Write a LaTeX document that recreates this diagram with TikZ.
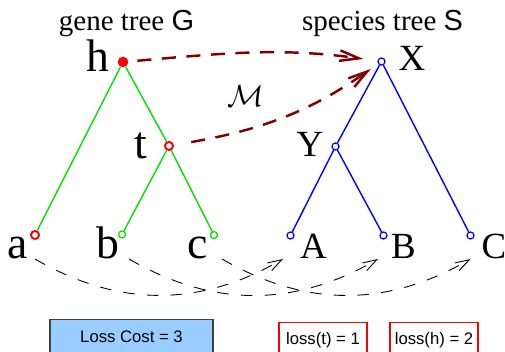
\documentclass[tikz,border=0pt]{standalone}
\usepackage{fontspec}
\setmainfont{Liberation Serif}
\setsansfont{Liberation Sans}
\usepackage{xcolor}
\usetikzlibrary{positioning, calc, arrows.meta}

\definecolor{genegreen}{RGB}{0,225,0}
\definecolor{mapred}{RGB}{128,0,0}
\definecolor{costblue}{RGB}{153,204,255}

\tikzset{
  gene/.style={draw=genegreen, line width=0.8pt},
  species/.style={draw=blue, line width=0.8pt},
  gleaf/.style={circle, draw=genegreen, fill=white, line width=0.7pt, inner sep=0pt, minimum size=4pt},
  sleaf/.style={circle, draw=blue, fill=white, line width=0.7pt, inner sep=0pt, minimum size=4pt},
  lossnode/.style={circle, draw=red, fill=white, line width=1.1pt, inner sep=0pt, minimum size=4.6pt},
  dupnode/.style={circle, fill=red, inner sep=0pt, minimum size=6pt},
  lowlbl/.style={anchor=base, font=\fontsize{26}{28}\selectfont},
  uplbl/.style={anchor=base, font=\fontsize{21}{24}\selectfont},
  treetitle/.style={anchor=base, font=\fontsize{16.5}{18}\selectfont},
  mapping/.style={draw=mapred, line width=1.4pt, dash pattern=on 8pt off 6pt,
    -{Straight Barb[length=11pt,width=6pt]}},
  leafmap/.style={draw=black, line width=0.5pt, dash pattern=on 6.5pt off 7pt,
    -{Straight Barb[length=8pt,width=5pt]}},
  costbox/.style={anchor=north, line width=0.6pt, inner xsep=0pt, inner ysep=5pt,
    text height=8pt, text depth=2.5pt, font=\sffamily\fontsize{9.5}{11}\selectfont},
  lossbox/.style={costbox, draw=red, minimum width=1.76cm}
}

\begin{document}
\begin{tikzpicture}[x=0.02cm, y=-0.02cm]
  \useasboundingbox (0,0) rectangle (505,352);
  \clip (0,0) rectangle (505,352);

  % Titles
  \node[treetitle] (gtitle) at (126.5,30) {gene tree {\sffamily G}};
  \node[treetitle] (stitle) at (382.5,30) {species tree {\sffamily S}};

  % Gene tree
  \node[dupnode] (h) at (123,62) {};
  \node[lossnode] (t) at (169,146) {};
  \node[lossnode] (a) at (35,235) {};
  \node[gleaf] (b) at (122,234.5) {};
  \node[gleaf] (c) at (214,235) {};
  \draw[gene] (h) -- (a);
  \draw[gene] (h) -- (t);
  \draw[gene] (t) -- (b);
  \draw[gene] (t) -- (c);

  % Species tree
  \node[sleaf] (X) at (381.5,61.5) {};
  \node[sleaf] (Y) at (335.5,146.5) {};
  \node[sleaf] (A) at (290.5,235.5) {};
  \node[sleaf] (B) at (383.5,235.5) {};
  \node[sleaf] (C) at (470.5,235.5) {};
  \draw[species] (X) -- (Y);
  \draw[species] (X) -- (C);
  \draw[species] (Y) -- (A);
  \draw[species] (Y) -- (B);

  % Node labels
  \node[lowlbl] (hlbl) at (97.5,71) {h};
  \node[lowlbl] (tlbl) at (141,158) {t};
  \node[lowlbl] (albl) at (17.5,258) {a};
  \node[lowlbl] (blbl) at (107.5,258) {b};
  \node[lowlbl] (clbl) at (197.5,258) {c};
  \node[uplbl] (Xlbl) at (412,70) {X};
  \node[uplbl] (Ylbl) at (310,156) {Y};
  \node[uplbl] (Albl) at (313.5,258) {A};
  \node[uplbl] (Blbl) at (403.5,258) {B};
  \node[uplbl] (Clbl) at (494,258) {C};

  % Mapping M
  \node[font=\fontsize{17}{20}\selectfont] (mlbl) at (246,96) {$\mathcal{M}$};
  \draw[mapping, shorten <=5pt, shorten >=8pt] (h) to[out=5, in=172] (X);
  \draw[mapping, shorten <=10pt, shorten >=5pt] (t) to[out=10, in=215] (X);

  % Leaf mapping
  \draw[leafmap] ($(a)+(0,24)$) to[out=-30, in=210] ($(A)+(-7.5,23.5)$);
  \draw[leafmap] ($(b)+(7,24.5)$) to[out=-30, in=210] ($(B)+(-5.5,23.5)$);
  \draw[leafmap] ($(c)+(8,24)$) to[out=-30, in=210] ($(C)+(0,23.5)$);

  % Costs
  \node[costbox, fill=costblue, draw=darkgray, minimum width=3.26cm] (cost) at (131.5,319) {Loss Cost = 3};
  \node[lossbox] (losst) at (323,321.5) {loss(t) = 1};
  \node[lossbox] (lossh) at (434,321.5) {loss(h) = 2};
\end{tikzpicture}
\end{document}
